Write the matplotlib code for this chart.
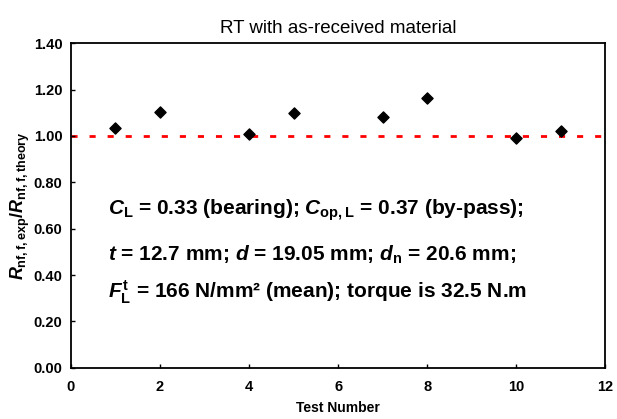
import numpy as np
import matplotlib
matplotlib.use('Agg')
import matplotlib.pyplot as plt

# Data
test_number = np.array([1, 2, 4, 5, 7, 8, 10, 11])
ratio = np.array([1.036, 1.102, 1.009, 1.098, 1.083, 1.165, 0.990, 1.023])
theory_level = 1.0

plt.rcParams['font.family'] = 'Liberation Sans'
plt.rcParams['mathtext.fontset'] = 'custom'
plt.rcParams['mathtext.rm'] = 'Liberation Sans:bold'
plt.rcParams['mathtext.it'] = 'Liberation Sans:italic:bold'
plt.rcParams['mathtext.bf'] = 'Liberation Sans:bold'

fig = plt.figure(figsize=(6.17, 4.19), dpi=100)
ax = fig.add_axes([0.115, 0.122, 0.866, 0.775])

ax.axhline(theory_level, color='#ff0000', linestyle=(0, (2.2, 4.3)), linewidth=2, zorder=1)
ax.scatter(test_number, ratio, color='black', marker='D', s=32, zorder=3)

ax.set_xlim(0, 12)
ax.set_ylim(0, 1.4)
ax.set_xticks(np.arange(0, 13, 2))
ax.set_yticks(np.arange(0, 1.41, 0.2))
ax.set_yticklabels(['%.2f' % v for v in np.arange(0, 1.41, 0.2)])
ax.tick_params(direction='in', length=3, labelsize=10.5, width=1)
ax.tick_params(axis='x', pad=9)
ax.tick_params(axis='y', pad=6)
for lbl in ax.get_xticklabels() + ax.get_yticklabels():
    lbl.set_fontweight('bold')
for s in ax.spines.values():
    s.set_linewidth(1.3)

ax.set_title('RT with as-received material', fontsize=13.5, pad=7)
ax.set_xlabel('Test Number', fontsize=10, fontweight='bold', labelpad=5)
ax.set_ylabel(r'$R_{\mathrm{nf,f,exp}}/R_{\mathrm{nf,f,theory}}$', fontsize=13, labelpad=1)

txt_kw = dict(fontsize=15, fontweight='bold', ha='left', va='center')
ax.text(0.83, 0.68, r'$C_{\mathrm{L}}$ = 0.33 (bearing); $C_{\mathrm{op,L}}$ = 0.37 (by-pass);', **txt_kw)
ax.text(0.83, 0.487, r'$t$ = 12.7 mm; $d$ = 19.05 mm; $d_{\mathrm{n}}$ = 20.6 mm;', **txt_kw)
ax.text(0.83, 0.328, r'$F_{\mathrm{L}}^{\mathrm{t}}$ = 166 N/mm² (mean); torque is 32.5 N.m', **txt_kw)

fig.savefig('out.png', dpi=100)
